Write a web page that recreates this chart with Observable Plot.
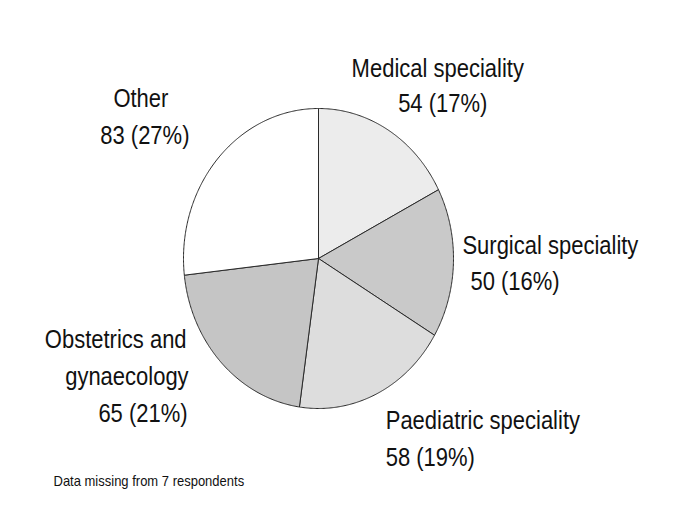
<!DOCTYPE html>
<html>
<head>
<meta charset="utf-8">
<script src="https://cdn.jsdelivr.net/npm/d3@7"></script>
<script src="https://cdn.jsdelivr.net/npm/@observablehq/plot@0.6"></script>
<style>
  html, body { margin: 0; padding: 0; background: #fff; }
  #chart svg { display: block; }
</style>
</head>
<body>
<div id="chart"></div>
<script>
// ---- data ----
const categories = ["Medical speciality", "Surgical speciality", "Paediatric speciality", "Obstetrics and gynaecology", "Other"];
const counts = [54, 50, 58, 65, 83];
const percents = [17, 16, 19, 21, 27];
const labelLines = [
  ["Medical speciality", "54 (17%)"],
  ["Surgical speciality", "50 (16%)"],
  ["Paediatric speciality", "58 (19%)"],
  ["Obstetrics and", "gynaecology", "65 (21%)"],
  ["Other", "83 (27%)"]
];
const footnote = "Data missing from 7 respondents";

// ---- styling / layout (not data) ----
const fills = ["#ececec", "#c9c9c9", "#dddddd", "#c5c5c5", "#ffffff"];
// per line: [textAnchor, dx, dy] relative to slice mid-angle point on the rim
const labelLayout = [
  [["middle", 49, -53], ["middle", 54, -18]],
  [["start", 9, -9], ["start", 17, 27]],
  [["start", 9, 35], ["start", 9, 72]],
  [["end", -35, -15], ["end", -33, 22], ["end", -34, 59]],
  [["middle", -77, -52], ["middle", -73, -15]]
];

// ---- build slices ----
const total = d3.sum(counts);
const slicePts = [];
const labels = [];
let cum = 0;
counts.forEach((c, i) => {
  const a0 = cum / total * 2 * Math.PI;
  cum += c;
  const a1 = cum / total * 2 * Math.PI;
  const n = Math.max(2, Math.ceil((a1 - a0) / (Math.PI / 360)));
  slicePts.push({k: categories[i], u: 0, v: 0, f: fills[i]});
  for (let j = 0; j <= n; j++) {
    const a = a0 + (a1 - a0) * j / n;
    slicePts.push({k: categories[i], u: Math.sin(a), v: Math.cos(a), f: fills[i]});
  }
  slicePts.push({k: categories[i], u: 0, v: 0, f: fills[i]});
  const am = (a0 + a1) / 2;
  labelLines[i].forEach((t, j) => {
    const [anchor, dx, dy] = labelLayout[i][j];
    labels.push({text: t, u: Math.sin(am), v: Math.cos(am), anchor, dx, dy});
  });
});

const font = "'Liberation Sans', Arial, Helvetica, sans-serif";

const marks = [
  Plot.line(slicePts, {x: "u", y: "v", z: "k", fill: "f", stroke: "#2a2a2a", strokeWidth: 1, curve: "linear"})
];
labels.forEach(d => {
  marks.push(Plot.text([d], {
    x: "u", y: "v", text: "text",
    textAnchor: d.anchor, lineAnchor: "bottom",
    dx: d.dx, dy: d.dy,
    fontSize: 22, fill: "#111"
  }));
});
marks.push(Plot.text([footnote], {
  frameAnchor: "bottom-left", text: d => d,
  textAnchor: "start", lineAnchor: "bottom",
  dx: 53, dy: -28, fontSize: 13, fill: "#111"
}));

const chart = Plot.plot({
  width: 685,
  height: 513,
  margin: 0,
  style: {fontFamily: font, background: "#fff"},
  x: {domain: [-1, 1], range: [318 - 135, 318 + 135], axis: null},
  y: {domain: [-1, 1], range: [258 + 150, 258 - 150], axis: null},
  color: {type: "identity"},
  marks
});
// the reference's lettering is slightly stretched vertically; scale about each baseline
d3.select(chart).selectAll("text").each(function() {
  const t = this.getAttribute("transform") || "";
  this.setAttribute("transform", (t + " scale(1,1.15)").trim());
});
document.getElementById("chart").appendChild(chart);
</script>
</body>
</html>
